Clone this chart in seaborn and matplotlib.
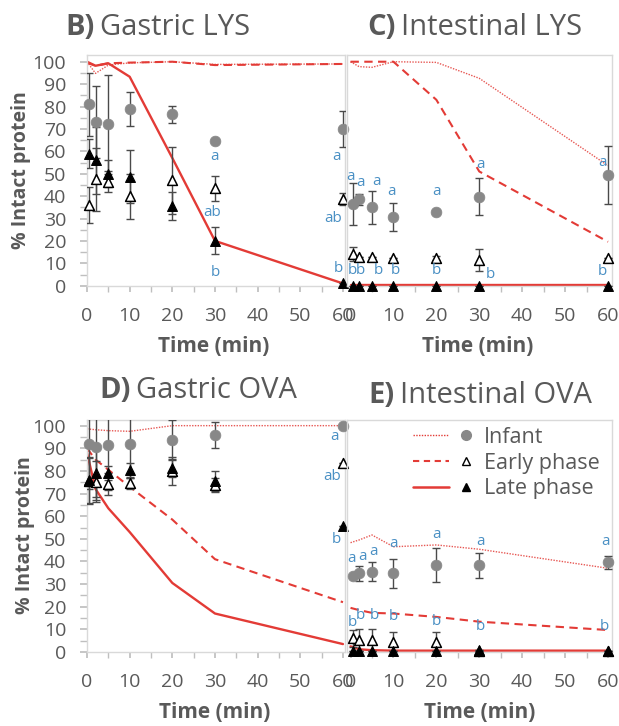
import matplotlib
matplotlib.use("Agg")
import matplotlib.pyplot as plt
import seaborn as sns
import pandas as pd
from matplotlib.lines import Line2D
from matplotlib.legend_handler import HandlerTuple
from matplotlib.ticker import MultipleLocator

sns.set_theme(style="white")
plt.rcParams['font.family'] = ['Open Sans', 'DejaVu Sans']

# ---------------- data ----------------
t_line = [0, 2, 5, 10, 20, 30, 60]
t_pts = [0.5, 2, 5, 10, 20, 30, 60]
series_names = ["Infant", "Early phase", "Late phase"]

# B) Gastric LYS
B_line_infant = [100, 94.8, 98.5, 99.5, 100, 98.8, 99]
B_line_early = [99.5, 98.2, 99.3, 99.6, 100, 98.5, 99]
B_line_late = [100, 98.2, 99.3, 93.3, 57, 20, 1]
B_infant = [81, 73, 72, 79, 76.5, 64.5, 70]
B_infant_err = [14, 16, 22, 7.6, 3.8, 0, 8]
B_early = [36, 47.5, 46.5, 40, 47, 43.5, 38.7]
B_early_err = [8, 14, 4.5, 10, 15, 5.5, 2.5]
B_late = [59, 56, 50, 48.7, 35.6, 20, 1]
B_late_err = [6.5, 15, 6, 11.8, 6.3, 6, 0]
B_letters = [("a", 30, 57.6), ("ab", 29.4, 32.9), ("b", 30, 6),
             ("a", 58.6, 57.6), ("ab", 57.8, 30.2), ("b", 58.9, 7.5)]

# C) Intestinal LYS
C_line_infant = [100, 97.8, 97.5, 100, 99.7, 92.6, 53.6]
C_line_early = [100, 100, 100, 100, 83, 51, 19.6]
C_line_late = [0.5, 0.5, 0.5, 0.5, 0.5, 0.5, 0.5]
C_infant = [36.5, 38.6, 35, 30.8, 33, 39.7, 49.4]
C_infant_err = [9.3, 2.5, 7.4, 6.2, 1, 8.3, 12.8]
C_early = [14.2, 12.7, 12.9, 12.4, 12.4, 11.5, 12.2]
C_early_err = [3.2, 0, 0, 0, 1, 5, 0]
C_late = [0, 0, 0, 0, 0, 0, 0]
C_letters = [("a", 0.0, 48.7), ("a", 2.4, 46), ("a", 6.1, 46.4), ("a", 9.6, 42),
             ("a", 20.1, 42), ("a", 30.2, 54.2), ("a", 58.6, 54.9),
             ("b", 0.5, 6.8), ("b", 2.4, 6.8), ("b", 6.5, 6.8), ("b", 10.4, 6.8),
             ("b", 20.1, 6.8), ("b", 32.7, 4.8), ("b", 58.8, 6.3)]

# D) Gastric OVA
D_line_infant = [98.6, 98.2, 97.8, 97.5, 100, 100, 100]
D_line_early = [90, 85, 80.5, 73, 58.5, 41, 22]
D_line_late = [88, 72, 63.5, 53, 30.5, 17, 3.5]
D_infant = [91.9, 90.7, 91.5, 91.9, 93.7, 95.9, 99.7]
D_infant_err = [20, 22, 20, 15, 8.8, 5.6, 0]
D_early = [75.5, 75.3, 74.2, 74.5, 80, 73.8, 83.5]
D_early_err = [10, 9, 5, 2.5, 6, 3, 0]
D_late = [76, 79, 79, 80.4, 81.2, 75.6, 55.5]
D_late_err = [10, 12, 3, 3, 4, 4.5, 0]
D_letters = [("a", 58.1, 95), ("ab", 57.5, 77.4), ("b", 58.5, 49.8)]

# E) Intestinal OVA
E_line_infant = [48.3, 49.5, 51.7, 46.5, 47.3, 45.4, 37]
E_line_early = [19.5, 18.5, 17.3, 17, 15.5, 13.4, 9.7]
E_line_late = [2.5, 1.2, 0.8, 0.6, 0.6, 0.6, 0.6]
E_infant = [33.6, 34.8, 35.5, 34.8, 38.4, 38.4, 39.6]
E_infant_err = [0.5, 3.3, 4.1, 6.4, 7.4, 5.5, 2.8]
E_early = [6, 5.3, 5.3, 4.6, 4.6, 0.5, 0.5]
E_early_err = [3.7, 4.7, 4.7, 4.1, 4.1, 0, 0]
E_late = [0.5, 0.5, 0.5, 0.5, 0.5, 1, 0.5]
E_letters = [("a", 0.3, 41.4), ("a", 2.75, 42.4), ("a", 5.3, 44.3), ("a", 10.1, 48),
             ("a", 20.1, 51.7), ("a", 30.2, 48.7), ("a", 59.3, 48.7),
             ("b", 0.5, 13), ("b", 2.4, 16.3), ("b", 5.5, 16.3), ("b", 10, 15.6),
             ("b", 20.1, 13.4), ("b", 30.2, 11.2), ("b", 59.1, 11.2)]

titles = [("B)", "Gastric LYS"), ("C)", "Intestinal LYS"),
          ("D)", "Gastric OVA"), ("E)", "Intestinal OVA")]
xticks = [0, 10, 20, 30, 40, 50, 60]
yticks = [0, 10, 20, 30, 40, 50, 60, 70, 80, 90, 100]

# ---------------- style ----------------
W, H = 619, 726
RED = "#e33b36"
GRAY = "#888888"
TXT = "#595959"
BLUE = "#4a90c4"
FRAME = "#d9d9d9"

fig = plt.figure(figsize=(W / 100, H / 100), dpi=100)
fig.patch.set_facecolor("white")


def px_axes(x0, x1, ytop, ybot):
    return fig.add_axes([x0 / W, 1 - ybot / H, (x1 - x0) / W, (ybot - ytop) / H])


axB = px_axes(87, 345.1, 55, 285.7)
axC = px_axes(347.1, 612.3, 55, 285.7)
axD = px_axes(87, 345.1, 420, 652)
axE = px_axes(347.1, 612.3, 420, 652)

panels = [
    (axB, B_line_infant, B_line_early, B_line_late, B_infant, B_infant_err,
     B_early, B_early_err, B_late, B_late_err, B_letters, (0, 60.5), 103, True),
    (axC, C_line_infant, C_line_early, C_line_late, C_infant, C_infant_err,
     C_early, C_early_err, C_late, [0] * 7, C_letters, (-0.8, 61), 103, False),
    (axD, D_line_infant, D_line_early, D_line_late, D_infant, D_infant_err,
     D_early, D_early_err, D_late, D_late_err, D_letters, (0, 60.5), 102.5, True),
    (axE, E_line_infant, E_line_early, E_line_late, E_infant, E_infant_err,
     E_early, E_early_err, E_late, [0] * 7, E_letters, (-0.8, 61), 102.5, False),
]

for (ax, li, le, ll, pi, pie, pe, pee, pl, ple, letters, xlim, ytop, left) in panels:
    ax.set_facecolor("none")
    # lines
    sns.lineplot(x=t_line, y=li, ax=ax, color=RED, lw=1.0, linestyle=(0, (1, 1)),
                 alpha=0.85, sort=False)
    sns.lineplot(x=t_line, y=le, ax=ax, color=RED, lw=1.5, linestyle=(0, (4, 2.6)),
                 sort=False)
    sns.lineplot(x=t_line, y=ll, ax=ax, color=RED, lw=1.7, sort=False)
    # error bars
    for vals, errs in ((pi, pie), (pe, pee), (pl, ple)):
        ax.errorbar(t_pts, vals, yerr=errs, fmt="none", ecolor="#4a4a4a",
                    elinewidth=1.0, capsize=3, capthick=1.0, zorder=3)
    # markers
    df = pd.DataFrame({"t": t_pts * 3, "v": pi + pe + pl,
                       "s": [series_names[0]] * 7 + [series_names[1]] * 7 + [series_names[2]] * 7})
    sns.scatterplot(data=df[df.s == "Infant"], x="t", y="v", ax=ax, marker="o",
                    s=60, color=GRAY, edgecolor=GRAY, linewidth=0.5, zorder=4,
                    clip_on=False, legend=False)
    sns.scatterplot(data=df[df.s == "Early phase"], x="t", y="v", ax=ax, marker="^",
                    s=50, color="white", edgecolor="black", linewidth=1.1, zorder=5,
                    clip_on=False, legend=False)
    sns.scatterplot(data=df[df.s == "Late phase"], x="t", y="v", ax=ax, marker="^",
                    s=50, color="black", edgecolor="black", linewidth=0.8, zorder=6,
                    clip_on=False, legend=False)
    # letters
    for txt, tx, ty in letters:
        ax.text(tx, ty, txt, color=BLUE, fontsize=11, ha="center", va="center",
                clip_on=False, zorder=7)
    ax.set_xlim(*xlim)
    ax.set_ylim(0, ytop)
    ax.set_xlabel("")
    ax.set_ylabel("")
    for sp in ax.spines.values():
        sp.set_color(FRAME)
        sp.set_linewidth(1.0)
    ax.set_xticks(xticks)
    ax.xaxis.set_minor_locator(MultipleLocator(5))
    ax.tick_params(axis="x", which="both", bottom=True, direction="out", length=4,
                   color="#bfbfbf", labelsize=14, labelcolor=TXT, pad=11)
    if left:
        ax.set_yticks(yticks)
        ax.yaxis.set_minor_locator(MultipleLocator(5))
        ax.tick_params(axis="y", which="both", left=True, direction="out", length=5,
                       color="#bfbfbf", labelsize=14, labelcolor=TXT, pad=10)
    else:
        ax.set_yticks([])

# legend in panel E
h_inf = (Line2D([], [], color=RED, lw=1.0, linestyle=(0, (1, 1))),
         Line2D([], [], marker="o", ls="none", color=GRAY, ms=7))
h_early = (Line2D([], [], color=RED, lw=1.5, linestyle=(0, (3, 2.2))),
           Line2D([], [], marker="^", ls="none", mfc="white", mec="black", ms=6, mew=1))
h_late = (Line2D([], [], color=RED, lw=1.8),
          Line2D([], [], marker="^", ls="none", color="black", ms=6))
leg = axE.legend([h_inf, h_early, h_late], series_names,
                 handler_map={tuple: HandlerTuple(ndivide=None, pad=0)},
                 loc="upper right", bbox_to_anchor=(1.01, 1.035), frameon=False,
                 fontsize=15.5, handlelength=3.3, handletextpad=0.0, labelspacing=0.22,
                 borderaxespad=0.3)
for t in leg.get_texts():
    t.set_color(TXT)

# titles with bold letter
renderer = fig.canvas.get_renderer()
title_pos = [(65, 35), (367, 35), (99, 398), (368, 403)]
for (b, rest), (x, y) in zip(titles, title_pos):
    t1 = fig.text(x / W, 1 - y / H, b, fontsize=21, fontweight="bold", color=TXT,
                  va="baseline", ha="left")
    bb = t1.get_window_extent(renderer)
    fig.text((bb.x1 + 6) / W, 1 - y / H, rest, fontsize=21, color=TXT,
             va="baseline", ha="left")

# axis labels
for yc, xc in ((170, 21), (535, 25)):
    fig.text(xc / W, 1 - yc / H, "% Intact protein", rotation=90, fontsize=14,
             fontweight="bold", color=TXT, ha="center", va="center")
for xc, yc in ((214, 346), (478, 346), (215, 712), (480, 712)):
    fig.text(xc / W, 1 - yc / H, "Time (min)", fontsize=15, fontweight="bold",
             color=TXT, ha="center", va="center")

fig.savefig("out.png", dpi=100)
